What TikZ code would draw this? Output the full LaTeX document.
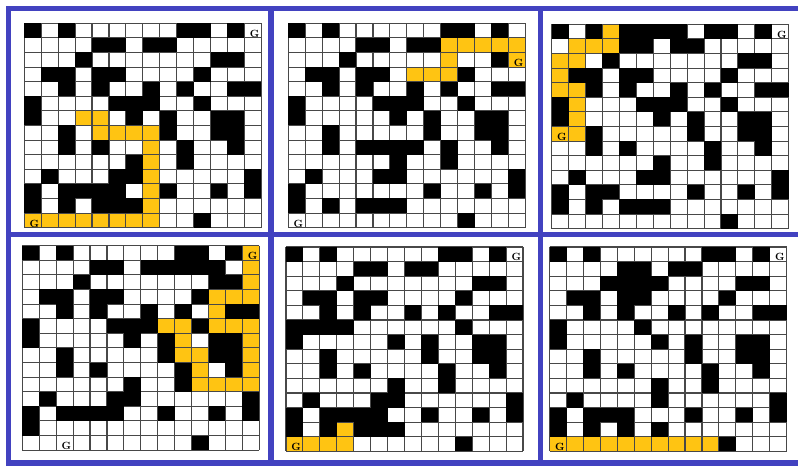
\documentclass[tikz,border=0pt]{standalone}
\usepackage{tikz}
\definecolor{frameblue}{RGB}{66,66,192}
\definecolor{pathyellow}{RGB}{255,196,18}
\definecolor{gridgray}{RGB}{72,72,72}
\tikzset{
  framebar/.style={draw=frameblue,line width=5.5bp,line join=miter},
  gridline/.style={draw=gridgray,line width=1.1bp},
  goallabel/.style={anchor=south,inner sep=0pt,font=\fontsize{10.5}{10.5}\selectfont\bfseries},
}
\newcommand\cellw{16.93}
\newcommand\cellh{14.6}
% #1 x0, #2 y0, #3 rows (codes: B black, W white, Y yellow, G white+G, H yellow+G)
\newcommand\drawmaze[3]{%
  \begin{scope}[shift={(#1,#2)}]
    \foreach \rowcodes [count=\ri from 0] in {#3} {
      \foreach \code [count=\ci from 0] in \rowcodes {
        \if\code W\fill[white] (\ci*\cellw,\ri*\cellh) rectangle ++(\cellw,\cellh);\fi
        \if\code G\fill[white] (\ci*\cellw,\ri*\cellh) rectangle ++(\cellw,\cellh);\fi
        \if\code Y\fill[pathyellow] (\ci*\cellw,\ri*\cellh) rectangle ++(\cellw,\cellh);\fi
        \if\code H\fill[pathyellow] (\ci*\cellw,\ri*\cellh) rectangle ++(\cellw,\cellh);\fi
      }
    }
    \foreach \i in {0,...,14} {
      \draw[gridline] (\i*\cellw,0) -- (\i*\cellw,14*\cellh);
      \draw[gridline] (0,\i*\cellh) -- (14*\cellw,\i*\cellh);
    }
    \foreach \rowcodes [count=\ri from 0] in {#3} {
      \foreach \code [count=\ci from 0] in \rowcodes {
        \if\code B\fill[black] (\ci*\cellw,\ri*\cellh) rectangle ++(\cellw,\cellh);\fi
        \if\code G\node[goallabel] at (\ci*\cellw+0.6*\cellw,\ri*\cellh+\cellh-0.3) {G};\fi
        \if\code H\node[goallabel] at (\ci*\cellw+0.6*\cellw,\ri*\cellh+\cellh-0.3) {G};\fi
      }
    }
  \end{scope}}
\begin{document}
\begin{tikzpicture}[x=1bp,y=-1bp]
\useasboundingbox (0,0) rectangle (798,466);
\fill[white] (0,0) rectangle (798,466);

% panel 1
\drawmaze{24.3}{23.3}{%
{B,W,B,W,W,W,W,W,W,B,B,W,B,G},%
{W,W,W,W,B,B,W,B,B,W,W,W,W,W},%
{W,W,W,B,W,W,W,W,W,W,W,B,B,W},%
{W,B,B,W,B,B,W,W,W,W,B,W,W,W},%
{W,W,B,W,B,W,W,B,W,B,W,W,B,B},%
{B,W,W,W,W,B,B,B,W,W,B,W,W,W},%
{B,W,W,Y,Y,W,B,W,B,W,W,B,B,W},%
{W,W,B,W,Y,Y,Y,Y,B,W,W,B,B,W},%
{W,W,B,W,B,W,W,Y,W,B,W,W,B,W},%
{W,W,W,W,W,W,B,Y,W,B,W,W,W,W},%
{W,B,W,W,W,B,B,Y,W,W,W,W,W,B},%
{B,W,B,B,B,B,W,Y,B,W,W,B,W,B},%
{B,W,B,W,B,B,B,Y,W,W,W,W,W,W},%
{H,Y,Y,Y,Y,Y,Y,Y,W,W,B,W,W,W}}

% panel 2
\drawmaze{288.3}{23.3}{%
{B,W,B,W,W,W,W,W,W,B,B,W,B,W},%
{W,W,W,W,B,B,W,B,B,Y,Y,Y,Y,Y},%
{W,W,W,B,W,W,W,W,W,Y,W,W,B,H},%
{W,B,B,W,B,B,W,Y,Y,Y,B,W,W,W},%
{W,W,B,W,B,W,W,B,W,B,W,W,B,B},%
{B,W,W,W,W,B,B,B,W,W,B,W,W,W},%
{B,W,W,W,W,W,B,W,B,W,W,B,B,W},%
{W,W,B,W,W,W,W,W,B,W,W,B,B,W},%
{W,W,B,W,B,B,B,B,W,B,W,W,B,W},%
{W,W,W,W,W,W,B,W,W,B,W,W,W,W},%
{W,B,W,W,W,B,B,W,W,W,W,W,W,B},%
{B,W,W,W,W,W,W,W,B,W,W,B,W,B},%
{B,W,B,W,B,B,B,W,W,W,W,W,W,W},%
{G,W,W,W,W,W,W,W,W,W,B,W,W,W}}

% panel 3
\drawmaze{551.7}{24.3}{%
{B,W,B,Y,B,B,B,B,W,B,B,W,B,G},%
{W,Y,Y,Y,B,B,W,B,B,W,W,W,W,W},%
{Y,Y,W,B,W,W,W,W,W,W,W,B,B,W},%
{Y,B,B,W,B,B,W,W,W,W,B,W,W,W},%
{Y,Y,B,W,B,W,W,B,W,B,W,W,B,B},%
{B,Y,W,W,W,B,B,B,W,W,B,W,W,W},%
{B,Y,W,W,W,W,B,W,B,W,W,B,B,W},%
{H,Y,B,W,W,W,W,W,B,W,W,B,B,W},%
{W,W,B,W,B,W,W,W,W,B,W,W,B,W},%
{W,W,W,W,W,W,B,W,W,B,W,W,W,W},%
{W,B,W,W,W,B,B,W,W,W,W,W,W,B},%
{B,W,B,B,W,W,W,W,B,W,W,B,W,B},%
{B,W,B,W,B,B,B,W,W,W,W,W,W,W},%
{W,W,W,W,W,W,W,W,W,W,B,W,W,W}}

% panel 4
\drawmaze{22.3}{245.7}{%
{B,W,B,W,W,W,W,W,W,B,B,W,B,H},%
{W,W,W,W,B,B,W,B,B,B,B,B,W,Y},%
{W,W,W,B,W,W,W,W,W,W,W,B,B,Y},%
{W,B,B,W,B,B,W,W,W,W,B,Y,Y,Y},%
{W,W,B,W,B,W,W,B,W,B,W,Y,B,B},%
{B,W,W,W,W,B,B,B,Y,Y,B,Y,Y,Y},%
{B,W,W,W,W,W,B,W,B,Y,W,B,B,Y},%
{W,W,B,W,W,W,W,W,B,Y,Y,B,B,Y},%
{W,W,B,W,B,W,W,W,W,B,Y,W,B,Y},%
{W,W,W,W,W,W,B,W,W,B,Y,Y,Y,Y},%
{W,B,W,W,W,B,B,W,W,W,W,W,W,B},%
{B,W,B,B,B,B,W,W,B,W,W,B,W,B},%
{B,W,W,W,W,W,W,W,W,W,W,W,W,W},%
{W,W,G,W,W,W,W,W,W,W,B,W,W,W}}

% panel 5
\drawmaze{286}{247}{%
{B,W,B,W,W,W,W,W,W,B,B,W,B,G},%
{W,W,W,W,B,B,W,B,B,W,W,W,W,W},%
{W,W,W,B,W,W,W,W,W,W,W,B,B,W},%
{W,B,B,W,B,B,W,W,W,W,B,W,W,W},%
{W,W,B,W,B,W,W,B,W,B,W,W,B,B},%
{B,B,B,B,W,W,W,W,W,W,B,W,W,W},%
{B,W,W,W,W,W,B,W,B,W,W,B,B,W},%
{W,W,B,W,W,W,W,W,B,W,W,B,B,W},%
{W,W,B,W,B,W,W,W,W,B,W,W,B,W},%
{W,W,W,W,W,W,B,W,W,B,W,W,W,W},%
{W,B,W,W,W,B,B,W,W,W,W,W,W,B},%
{B,W,B,B,B,B,W,W,B,W,W,B,W,B},%
{B,W,B,Y,B,B,B,W,W,W,W,W,W,W},%
{H,Y,Y,Y,W,W,W,W,W,W,B,W,W,W}}

% panel 6
\drawmaze{549.6}{247}{%
{B,W,B,W,W,W,W,W,W,B,B,W,B,G},%
{W,W,W,W,B,B,W,B,B,W,W,W,W,W},%
{W,W,W,B,B,B,B,W,W,W,W,B,B,W},%
{W,B,B,W,B,B,W,W,W,W,B,W,W,W},%
{W,W,B,W,B,W,W,B,W,B,W,W,B,B},%
{B,W,W,W,W,B,W,W,W,W,W,W,W,W},%
{B,W,W,W,W,W,B,W,B,W,W,B,B,W},%
{W,W,B,W,W,W,W,W,B,W,W,B,B,W},%
{W,W,B,W,B,W,W,W,W,B,W,W,B,W},%
{W,W,W,W,W,W,B,W,W,B,W,W,W,W},%
{W,B,W,W,W,W,B,W,W,W,W,W,W,B},%
{B,W,B,B,B,W,W,W,B,W,W,B,W,B},%
{B,W,B,W,B,W,B,W,W,W,W,W,W,W},%
{H,Y,Y,Y,Y,Y,Y,Y,Y,Y,B,W,W,W}}

% blue frame
\draw[framebar] (805,8.5) -- (8.5,8.5) -- (8.5,463) -- (805,463);
\draw[framebar] (8.5,234.5) -- (805,234.5);
\draw[framebar] (270.8,8.5) -- (270.8,463);
\draw[framebar] (540.5,8.5) -- (540.5,463);
\end{tikzpicture}
\end{document}
